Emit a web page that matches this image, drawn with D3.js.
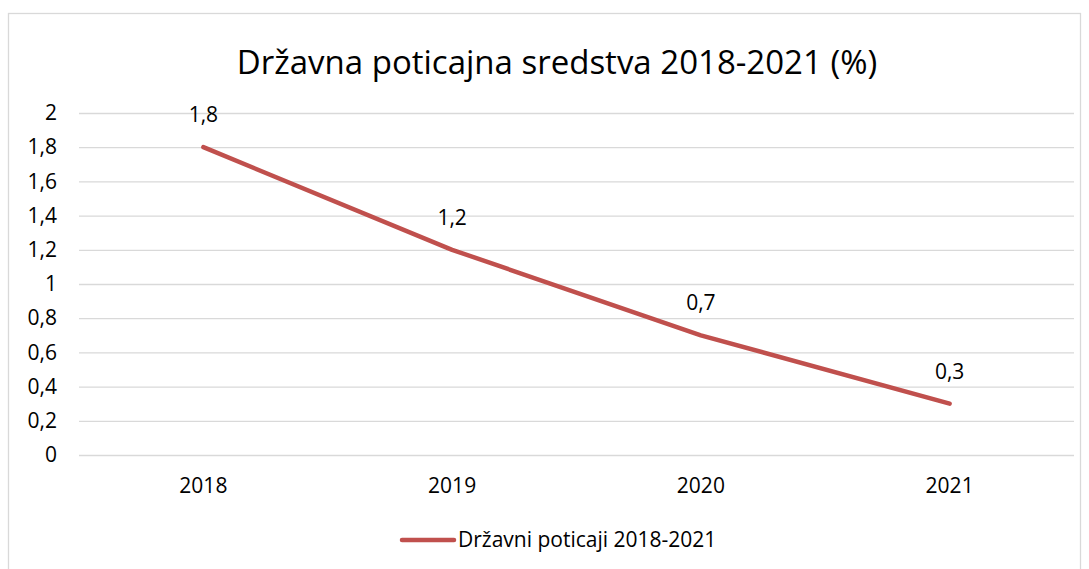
<!DOCTYPE html>
<html>
<head>
<meta charset="utf-8">
<script src="https://cdn.jsdelivr.net/npm/d3@7"></script>
<style>
  body { margin: 0; background: #fff; font-family: "Open Sans", "Noto Sans", sans-serif; }
  .grid line { stroke: #d9d9d9; stroke-width: 1.3; }
  .grid .domain { display: none; }
  .axis text { font-size: 21px; fill: #000; font-family: "Open Sans", sans-serif; }
  .axis .domain, .axis line { display: none; }
</style>
</head>
<body>
<div id="chart"></div>
<script>
// Data
const years = ["2018", "2019", "2020", "2021"];
const values = [1.8, 1.2, 0.7, 0.3];
const yTicks = [0, 0.2, 0.4, 0.6, 0.8, 1, 1.2, 1.4, 1.6, 1.8, 2];
const seriesName = "Državni poticaji 2018-2021";
const title = "Državna poticajna sredstva 2018-2021 (%)";

const W = 1089, H = 569;
const margin = {top: 113, right: 15, bottom: 114, left: 79};
const width = W - margin.left - margin.right;
const height = H - margin.top - margin.bottom;
const lineColor = "#c0504d";
const fmt = d => String(d).replace(".", ",");

const root = d3.select("#chart")
  .append("svg")
  .attr("width", W)
  .attr("height", H);

// chart border
root.append("rect")
  .attr("x", 8.5).attr("y", 13.5)
  .attr("width", 1072).attr("height", 570)
  .attr("fill", "#fff")
  .attr("stroke", "#d9d9d9")
  .attr("stroke-width", 1.3);

root.append("text")
  .attr("x", 557)
  .attr("y", 74)
  .attr("text-anchor", "middle")
  .style("font-size", "33px")
  .style("fill", "#000")
  .text(title);

const svg = root.append("g")
  .attr("transform", `translate(${margin.left},${margin.top})`);

const x = d3.scaleBand().domain(years).range([0, width]);
const y = d3.scaleLinear().domain([0, 2]).range([height, 0]);

// grid lines
svg.append("g")
  .attr("class", "grid")
  .call(d3.axisLeft(y).tickValues(yTicks).tickSize(-width).tickFormat(""));

// Y axis
svg.append("g")
  .attr("class", "axis")
  .call(d3.axisLeft(y).tickValues(yTicks).tickSize(0).tickPadding(22).tickFormat(fmt));

// X axis
svg.append("g")
  .attr("class", "axis")
  .attr("transform", `translate(0,${height})`)
  .call(d3.axisBottom(x).tickSize(0).tickPadding(23));

// line
const line = d3.line()
  .x((d, i) => x(years[i]) + x.bandwidth() / 2)
  .y(d => y(d));

svg.append("path")
  .datum(values)
  .attr("fill", "none")
  .attr("stroke", lineColor)
  .attr("stroke-width", 4.5)
  .attr("stroke-linecap", "round")
  .attr("stroke-linejoin", "round")
  .attr("d", line);

// data labels
svg.selectAll(".label")
  .data(values)
  .enter()
  .append("text")
  .attr("class", "label")
  .attr("x", (d, i) => x(years[i]) + x.bandwidth() / 2)
  .attr("y", d => y(d) - 25)
  .attr("text-anchor", "middle")
  .style("font-size", "21px")
  .style("fill", "#000")
  .text(fmt);

// legend
const legend = root.append("g").attr("transform", "translate(402,540)");
legend.append("line")
  .attr("x1", 0).attr("x2", 52)
  .attr("stroke", lineColor)
  .attr("stroke-width", 4.5)
  .attr("stroke-linecap", "round");
legend.append("text")
  .attr("x", 56)
  .attr("y", 7)
  .style("font-size", "21px")
  .style("fill", "#000")
  .text(seriesName);
</script>
</body>
</html>
